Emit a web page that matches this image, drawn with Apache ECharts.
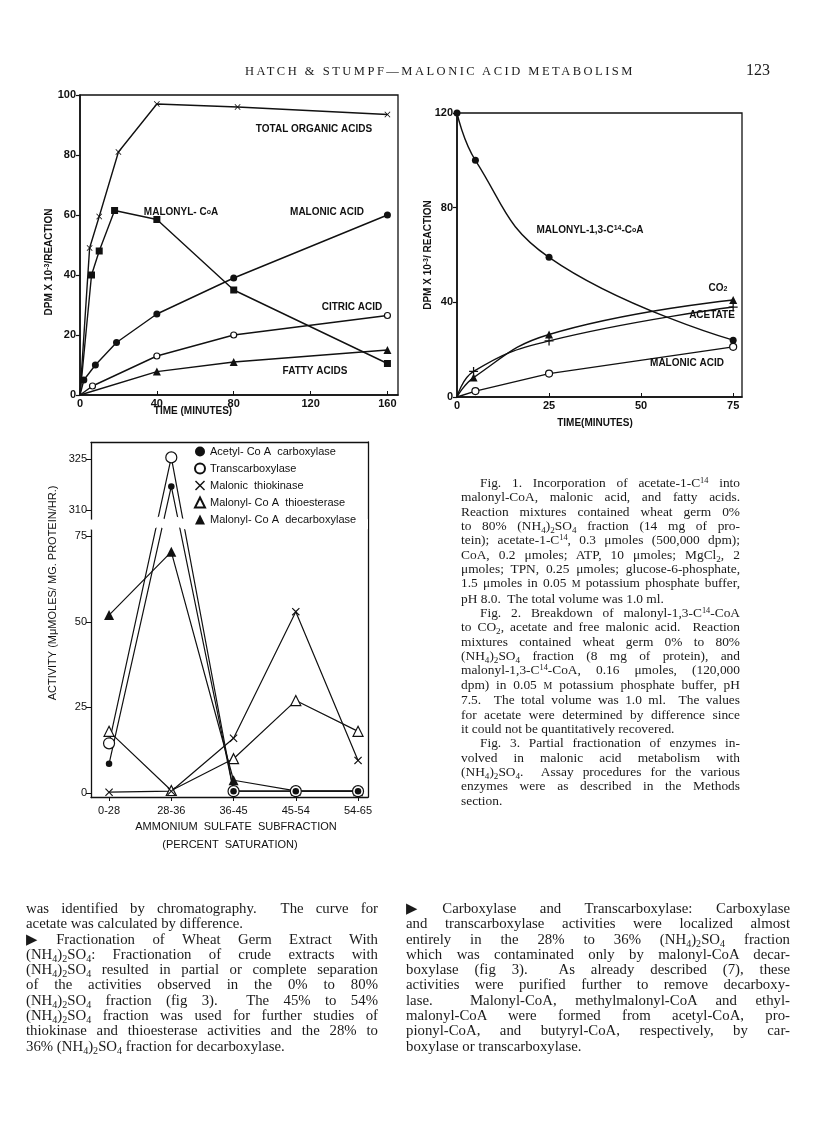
<!DOCTYPE html>
<html>
<head>
<meta charset="utf-8">
<title>Hatch &amp; Stumpf — Malonic acid metabolism</title>
<script src="https://cdn.jsdelivr.net/npm/echarts@6.0.0/dist/echarts.min.js"></script>
<style>
  body { margin: 0; background: #fff; }
  #page { position: relative; width: 816px; height: 1121px; overflow: hidden; background: #fff; }
  #chart { position: absolute; left: 0; top: 0; width: 816px; height: 1121px; }
  .txt { position: absolute; font-family: "Liberation Serif", "DejaVu Serif", serif; color: #1a1a1a; }
  .txt div { text-align: justify; text-align-last: justify; white-space: nowrap; }
  .txt div.end { text-align-last: left; }
  .txt div.ind { text-indent: 19px; }
  .txt sub { font-size: 0.68em; vertical-align: -0.3em; line-height: 0; }
  .txt sup { font-size: 0.62em; vertical-align: 0.45em; line-height: 0; }
  .sc { font-size: 0.74em; }
  .arr { margin-right: 5px; }
  #head { left: 236px; top: 64px; width: 408px; font-size: 12.5px; letter-spacing: 2.5px; }
  #head div { text-align: center; text-align-last: center; }
  #folio { left: 746px; top: 61px; font-size: 16px; }
  #caption { left: 461px; top: 476px; width: 279px; font-size: 13.4px; line-height: 14.35px; }
  #colL { left: 26px; top: 901px; width: 352px; font-size: 14.8px; line-height: 15.3px; }
  #colR { left: 406px; top: 901px; width: 384px; font-size: 14.8px; line-height: 15.3px; }
</style>
</head>
<body>
<div id="page">
  <div id="chart"></div>

  <div class="txt" id="head"><div>HATCH &amp; STUMPF—MALONIC ACID METABOLISM</div></div>
  <div class="txt" id="folio">123</div>

  <div class="txt" id="caption">
    <div class="ind">Fig. 1. Incorporation of acetate-1-C<sup>14</sup> into</div>
    <div>malonyl-CoA, malonic acid, and fatty acids.</div>
    <div>Reaction mixtures contained wheat germ 0%</div>
    <div>to 80% (NH<sub>4</sub>)<sub>2</sub>SO<sub>4</sub> fraction (14 mg of pro-</div>
    <div>tein); acetate-1-C<sup>14</sup>, 0.3 μmoles (500,000 dpm);</div>
    <div>CoA, 0.2 μmoles; ATP, 10 μmoles; MgCl<sub>2</sub>, 2</div>
    <div>μmoles; TPN, 0.25 μmoles; glucose-6-phosphate,</div>
    <div>1.5 μmoles in 0.05 <span class="sc">M</span> potassium phosphate buffer,</div>
    <div class="end">pH 8.0.&nbsp; The total volume was 1.0 ml.</div>
    <div class="ind">Fig. 2. Breakdown of malonyl-1,3-C<sup>14</sup>-CoA</div>
    <div>to CO<sub>2</sub>, acetate and free malonic acid.&nbsp; Reaction</div>
    <div>mixtures contained wheat germ 0% to 80%</div>
    <div>(NH<sub>4</sub>)<sub>2</sub>SO<sub>4</sub> fraction (8 mg of protein), and</div>
    <div>malonyl-1,3-C<sup>14</sup>-CoA, 0.16 μmoles, (120,000</div>
    <div>dpm) in 0.05 <span class="sc">M</span> potassium phosphate buffer, pH</div>
    <div>7.5.&nbsp; The total volume was 1.0 ml.&nbsp; The values</div>
    <div>for acetate were determined by difference since</div>
    <div class="end">it could not be quantitatively recovered.</div>
    <div class="ind">Fig. 3. Partial fractionation of enzymes in-</div>
    <div>volved in malonic acid metabolism with</div>
    <div>(NH<sub>4</sub>)<sub>2</sub>SO<sub>4</sub>.&nbsp; Assay procedures for the various</div>
    <div>enzymes were as described in the Methods</div>
    <div class="end">section.</div>
  </div>

  <div class="txt" id="colL">
    <div>was identified by chromatography.&nbsp; The curve for</div>
    <div class="end">acetate was calculated by difference.</div>
    <div><span class="arr">▶</span>Fractionation of Wheat Germ Extract With</div>
    <div>(NH<sub>4</sub>)<sub>2</sub>SO<sub>4</sub>: Fractionation of crude extracts with</div>
    <div>(NH<sub>4</sub>)<sub>2</sub>SO<sub>4</sub> resulted in partial or complete separation</div>
    <div>of the activities observed in the 0% to 80%</div>
    <div>(NH<sub>4</sub>)<sub>2</sub>SO<sub>4</sub> fraction (fig 3).&nbsp; The 45% to 54%</div>
    <div>(NH<sub>4</sub>)<sub>2</sub>SO<sub>4</sub> fraction was used for further studies of</div>
    <div>thiokinase and thioesterase activities and the 28% to</div>
    <div class="end">36% (NH<sub>4</sub>)<sub>2</sub>SO<sub>4</sub> fraction for decarboxylase.</div>
  </div>

  <div class="txt" id="colR">
    <div><span class="arr">▶</span>Carboxylase and Transcarboxylase: Carboxylase</div>
    <div>and transcarboxylase activities were localized almost</div>
    <div>entirely in the 28% to 36% (NH<sub>4</sub>)<sub>2</sub>SO<sub>4</sub> fraction</div>
    <div>which was contaminated only by malonyl-CoA decar-</div>
    <div>boxylase (fig 3).&nbsp; As already described (7), these</div>
    <div>activities were purified further to remove decarboxy-</div>
    <div>lase.&nbsp; Malonyl-CoA, methylmalonyl-CoA and ethyl-</div>
    <div>malonyl-CoA were formed from acetyl-CoA, pro-</div>
    <div>pionyl-CoA, and butyryl-CoA, respectively, by car-</div>
    <div class="end">boxylase or transcarboxylase.</div>
  </div>
</div>

<script>
// Fig. 1 - incorporation of acetate-1-C14 (time in minutes, DPM x 10^-3)
const fig1TotalT = [0, 5, 10, 20, 40, 82, 160]
const fig1TotalV = [0, 49, 59.5, 81, 97, 96, 93.5]
const fig1MalonylCoAT = [0, 6, 10, 18, 40, 80, 160]
const fig1MalonylCoAV = [0, 40, 48, 61.5, 58.5, 35, 10.5]
const fig1MalonicT = [0, 2, 8, 19, 40, 80, 160]
const fig1MalonicV = [0, 5, 10, 17.5, 27, 39, 60]
const fig1CitricT = [0, 6.5, 40, 80, 160]
const fig1CitricV = [0, 3, 13, 20, 26.5]
const fig1FattyT = [0, 40, 80, 160]
const fig1FattyV = [0, 7.8, 11, 15]
const fig1XTicks = [0, 40, 80, 120, 160]

// Fig. 2 - breakdown of malonyl-1,3-C14-CoA
const fig2MalonylT = [0, 5, 25, 75]
const fig2MalonylV = [120, 100, 59, 24]
const fig2Co2T = [0, 4.5, 25, 75]
const fig2Co2V = [0, 8.2, 26.4, 41]
const fig2AcetateT = [0, 4.5, 25, 75]
const fig2AcetateV = [0, 10.8, 23.7, 38]
const fig2MalonicT = [0, 5, 25, 75]
const fig2MalonicV = [0, 2.5, 9.9, 21.2]
const fig2XTicks = [0, 25, 50, 75]

// Fig. 3 - (NH4)2SO4 subfractions
const fig3Cats = ['0-28', '28-36', '36-45', '45-54', '54-65']
const fig3Carboxylase = [8.5, 317, 0.5, 0.5, 0.5]
const fig3Transcarboxylase = [14.5, 325.5, 0.5, 0.5, 0.5]
const fig3Thiokinase = [0.2, 0.5, 16, 53, 9.5]
const fig3Thioesterase = [18, 0.7, 10, 27, 18]
const fig3Decarboxylase = [52, 70.5, 3.7, 0.6, 0.5]
const fig3YTicks = [0, 25, 50, 75, 310, 325]

const X_PATH = 'path://M1,0L5,4L9,0L10,1L6,5L10,9L9,10L5,6L1,10L0,9L4,5L0,1Z'
const PLUS_PATH = 'path://M4.3,0H5.7V4.3H10V5.7H5.7V10H4.3V5.7H0V4.3H4.3Z'
const SANS = '"Liberation Sans", Arial, sans-serif'

const solid = { color: '#111', borderColor: '#111', borderWidth: 0 }
const hollow = { color: '#fff', borderColor: '#111', borderWidth: 1.2 }

function pts(xs, ys, hideFirst) {
  return xs.map((x, i) => (hideFirst && i === 0) ? { value: [x, ys[i]], symbol: 'none' } : [x, ys[i]])
}

function line(name, data, ax, symbol, size, itemStyle, extra) {
  return Object.assign({
    name, type: 'line', data,
    xAxisIndex: ax, yAxisIndex: ax,
    symbol, symbolSize: size,
    showAllSymbol: true,
    lineStyle: { color: '#111', width: 1.4 },
    itemStyle,
    emphasis: { disabled: true },
    animation: false
  }, extra || {})
}

function valueAxis(grid, min, max, extra) {
  return Object.assign({
    type: 'value', gridIndex: grid, min, max,
    splitLine: { show: false },
    axisLine: { show: true, onZero: false, lineStyle: { color: '#111', width: 1.6 } },
    axisTick: { show: true, length: 4, lineStyle: { color: '#111', width: 1.2 } },
    axisLabel: { color: '#111', fontFamily: SANS, fontWeight: 'bold', fontSize: 11, margin: 4 }
  }, extra || {})
}

// plain frame edge (top / right side of fig 3)
function frameAxis(grid, position) {
  return {
    type: 'value', gridIndex: grid, position, min: 0, max: 1,
    axisLine: { show: true, onZero: false, lineStyle: { color: '#111', width: 1.3 } },
    axisTick: { show: false }, axisLabel: { show: false }, splitLine: { show: false }
  }
}

function label(text, x, y, opt) {
  return {
    type: 'text', x, y, rotation: (opt && opt.rotate) || 0, silent: true, z: 50,
    style: Object.assign({
      text, fill: '#111', align: 'center', verticalAlign: 'middle',
      font: 'bold 10px ' + SANS,
      rich: {
        sup: { fontSize: 7, fontWeight: 'bold', fontFamily: SANS, verticalAlign: 'top', lineHeight: 8 },
        sub: { fontSize: 7, fontWeight: 'bold', fontFamily: SANS, verticalAlign: 'bottom', lineHeight: 8 },
        o: { fontSize: 7, fontWeight: 'bold', fontFamily: SANS }
      }
    }, (opt && opt.style) || {})
  }
}

const chart = echarts.init(document.getElementById('chart'), null, { renderer: 'canvas' })

chart.setOption({
  backgroundColor: '#fff',
  animation: false,
  grid: [
    { left: 80, top: 95, width: 318, height: 300, show: true, borderColor: '#111', borderWidth: 1.3 },
    { left: 457, top: 113, width: 285, height: 284, show: true, borderColor: '#111', borderWidth: 1.3 },
    { left: 91, top: 442, width: 277, height: 355 }
  ],
  xAxis: [
    valueAxis(0, 0, 165.5, {
      axisTick: { show: true, inside: true, length: 4, customValues: fig1XTicks, lineStyle: { color: '#111' } },
      axisLabel: { customValues: fig1XTicks, color: '#111', fontFamily: SANS, fontWeight: 'bold', fontSize: 11, margin: 3 }
    }),
    valueAxis(1, 0, 77.4, {
      axisTick: { show: true, inside: true, length: 4, customValues: fig2XTicks, lineStyle: { color: '#111' } },
      axisLabel: { customValues: fig2XTicks, color: '#111', fontFamily: SANS, fontWeight: 'bold', fontSize: 11, margin: 3 }
    }),
    valueAxis(2, -0.29, 4.16, {
      axisLine: { show: true, onZero: false, lineStyle: { color: '#111', width: 1.3 } },
      axisTick: { show: true, length: 4, customValues: [0, 1, 2, 3, 4], lineStyle: { color: '#111' } },
      axisLabel: {
        customValues: [0, 1, 2, 3, 4], color: '#111', fontFamily: SANS, fontSize: 11, margin: 8,
        formatter: v => fig3Cats[Math.round(v)]
      }
    }),
    frameAxis(2, 'top')
  ],
  yAxis: [
    valueAxis(0, 0, 100, { interval: 20 }),
    valueAxis(1, 0, 120, { interval: 40 }),
    valueAxis(2, -1.2, 330, {
      breaks: [{ start: 77, end: 307.5, gap: '3%' }],
      breakArea: {
        show: true,
        expandOnClick: false,
        zigzagAmplitude: 3,
        itemStyle: { color: '#fff', borderColor: '#fff', borderWidth: 0, opacity: 1 }
      },
      axisLine: { show: true, onZero: false, lineStyle: { color: '#111', width: 1.3 } },
      axisTick: { show: true, length: 5, customValues: fig3YTicks, lineStyle: { color: '#111' } },
      axisLabel: { customValues: fig3YTicks, color: '#111', fontFamily: SANS, fontSize: 11, margin: 4 }
    }),
    frameAxis(2, 'right')
  ],
  legend: {
    left: 189, top: 441, orient: 'vertical', z: 300,
    itemWidth: 10, itemHeight: 10, itemGap: 5.5,
    selectedMode: false,
    textStyle: { color: '#111', fontFamily: SANS, fontSize: 11 },
    data: [
      { name: 'Acetyl- Co A  carboxylase', icon: 'circle' },
      { name: 'Transcarboxylase', icon: 'circle' },
      { name: 'Malonic  thiokinase', icon: X_PATH },
      { name: 'Malonyl- Co A  thioesterase', icon: 'triangle' },
      { name: 'Malonyl- Co A  decarboxylase', icon: 'triangle' }
    ]
  },
  series: [
    // fig 1
    line('Total organic acids', pts(fig1TotalT, fig1TotalV, true), 0, X_PATH, 6, solid),
    line('Malonyl-CoA', pts(fig1MalonylCoAT, fig1MalonylCoAV, true), 0, 'rect', 7, solid),
    line('Malonic acid', pts(fig1MalonicT, fig1MalonicV, true), 0, 'circle', 7, solid),
    line('Citric acid', pts(fig1CitricT, fig1CitricV, true), 0, 'circle', 6, hollow),
    line('Fatty acids', pts(fig1FattyT, fig1FattyV, true), 0, 'triangle', 8, solid),
    // fig 2
    line('Malonyl-1,3-C14-CoA', pts(fig2MalonylT, fig2MalonylV, false), 1, 'circle', 7, solid, { smooth: 0.45 }),
    line('CO2', pts(fig2Co2T, fig2Co2V, true), 1, 'triangle', 8, solid, { smooth: 0.45 }),
    line('Acetate', pts(fig2AcetateT, fig2AcetateV, true), 1, PLUS_PATH, 9, solid, { smooth: 0.45 }),
    line('Malonic acid (fig 2)', pts(fig2MalonicT, fig2MalonicV, true), 1, 'circle', 7, hollow),
    // fig 3
    line('Malonyl- Co A  decarboxylase', pts([0, 1, 2, 3, 4], fig3Decarboxylase), 2, 'triangle', 10, solid, { lineStyle: { color: '#111', width: 1.2 } }),
    line('Malonyl- Co A  thioesterase', pts([0, 1, 2, 3, 4], fig3Thioesterase), 2, 'triangle', 10, hollow, { lineStyle: { color: '#111', width: 1.2 } }),
    line('Malonic  thiokinase', pts([0, 1, 2, 3, 4], fig3Thiokinase), 2, X_PATH, 8, solid, { lineStyle: { color: '#111', width: 1.2 } }),
    line('Transcarboxylase', pts([0, 1, 2, 3, 4], fig3Transcarboxylase), 2, 'circle', 11, hollow, { lineStyle: { color: '#111', width: 1.2 } }),
    line('Acetyl- Co A  carboxylase', pts([0, 1, 2, 3, 4], fig3Carboxylase), 2, 'circle', 6.5, solid, { lineStyle: { color: '#111', width: 1.2 } })
  ],
  graphic: [
    // fig 1 labels
    label('TOTAL ORGANIC ACIDS', 314, 129),
    label('MALONYL- C{o|o}A', 181, 212),
    label('MALONIC ACID', 327, 212),
    label('CITRIC ACID', 352, 307),
    label('FATTY ACIDS', 315, 371),
    label('TIME (MINUTES)', 193, 411),
    label('DPM X 10{sup|-3}/REACTION', 49, 262, { rotate: Math.PI / 2 }),
    // fig 2 labels
    label('MALONYL-1,3-C{sup|14}-C{o|o}A', 590, 230),
    label('CO{sub|2}', 718, 288),
    label('ACETATE', 712, 315),
    label('MALONIC ACID', 687, 363),
    label('TIME(MINUTES)', 595, 423),
    label('DPM X 10{sup|-3}/ REACTION', 428, 255, { rotate: Math.PI / 2 }),
    // fig 3 labels
    label('AMMONIUM  SULFATE  SUBFRACTION', 236, 827, { style: { font: '11px ' + SANS } }),
    label('(PERCENT  SATURATION)', 230, 845, { style: { font: '11px ' + SANS } }),
    label('ACTIVITY (MμMOLES/ MG. PROTEIN/HR.)', 53, 593, { rotate: Math.PI / 2, style: { font: '11px ' + SANS } })
  ]
})
</script>
</body>
</html>
